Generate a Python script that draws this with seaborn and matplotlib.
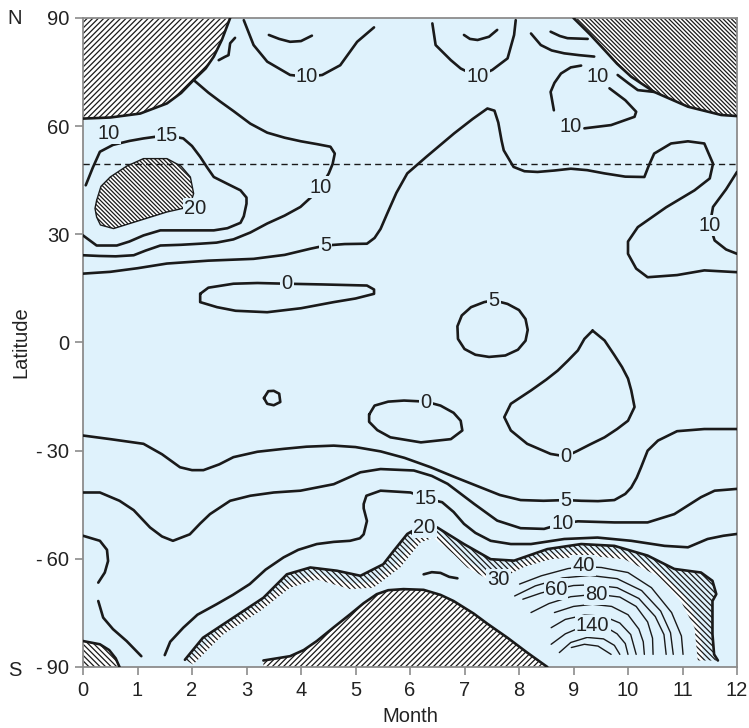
#!/usr/bin/env python
# coding: utf-8
import pandas as pd
import matplotlib
matplotlib.use('Agg')
from matplotlib import pyplot as plt
import seaborn as sb

# isolines, as (month, latitude) pairs

# polar-night areas (hatched)
north_pole_left = [(0, 62.1), (0.5, 62.4), (1.05, 63.5), (1.54, 66.3), (1.8, 69.2),
                   (2.03, 72.8), (2.25, 76.0), (2.4, 79.3), (2.55, 84.0), (2.7, 90)]
north_pole_right = [(9.0, 90), (9.3, 85.5), (9.57, 81.1), (9.8, 77.3), (10.06, 73.7),
                    (10.48, 69.5), (11.1, 65.4), (11.71, 63.1), (12, 62.8)]
south_pole_mid = [(3.31, -88.2), (3.8, -87.0), (4.05, -85.3), (4.29, -82.8), (4.6, -79.0),
                  (4.9, -75.4), (5.15, -72.3), (5.39, -69.8), (5.6, -68.7), (5.88, -68.4),
                  (6.25, -68.6), (6.56, -70.0), (6.8, -71.7), (7.17, -75.2), (7.42, -78.0),
                  (7.79, -81.9), (8.15, -86.0), (8.52, -90)]
south_pole_corner = [(0, -82.8), (0.31, -83.7), (0.48, -85.3), (0.6, -87.6), (0.67, -90)]

# northern hemisphere
blob20_north = [(0.25, 39.4), (0.33, 43.3), (0.5, 45.9), (0.8, 48.9), (1.11, 51.0),
                (1.54, 51.0), (1.8, 48.9), (1.97, 45.9), (2.03, 41.3), (1.95, 37.6),
                (1.54, 36.2), (1.05, 33.9), (0.56, 31.6), (0.32, 32.6), (0.25, 34.8),
                (0.22, 37.2), (0.25, 39.4)]
c10_north_left = [(2.03, 72.8), (2.3, 69.3), (2.52, 66.8), (2.76, 64.2), (3.07, 60.7),
                  (3.38, 58.2), (3.7, 56.8), (4.0, 55.8), (4.3, 55.0), (4.54, 54.3),
                  (4.62, 52.4), (4.58, 49.5), (4.51, 46.9), (4.36, 43.1), (4.2, 40.5),
                  (3.99, 37.6), (3.7, 35.2), (3.38, 33.0), (3.07, 30.5), (2.76, 28.6),
                  (2.45, 27.7), (2.15, 27.4), (1.8, 27.1), (1.42, 26.9), (1.15, 25.5),
                  (0.93, 24.2), (0.6, 23.9), (0.3, 24.0), (0, 24.2)]
c15_north = [(0.05, 43.6), (0.18, 48.5), (0.31, 52.9), (0.55, 54.8), (0.85, 55.9),
             (1.11, 56.6), (1.54, 57.5), (1.84, 56.6), (2.0, 54.5), (2.15, 51.5),
             (2.28, 48.5), (2.4, 45.9), (2.65, 44.0), (2.89, 42.2), (3.0, 40.2),
             (3.0, 38.5), (2.95, 35.0), (2.89, 33.2), (2.65, 31.7), (2.4, 31.1),
             (1.9, 31.1), (1.42, 31.1), (1.11, 29.7), (0.85, 28.0), (0.62, 26.9),
             (0.25, 26.9), (0, 29.7)]
c5_north = [(0, 19.1), (0.5, 19.6), (1.0, 20.6), (1.54, 21.9), (2.3, 22.7), (3.13, 23.2),
            (3.7, 24.3), (4.17, 26.0), (4.45, 26.9), (4.8, 27.3), (5.21, 27.4), (5.35, 29.0),
            (5.46, 31.5), (5.58, 35.7), (5.75, 41.5), (5.95, 46.9), (6.3, 51.5), (6.81, 58.0),
            (7.15, 62.0), (7.42, 64.9), (7.55, 64.3), (7.62, 61.0), (7.68, 56.0), (7.72, 53.3),
            (7.9, 48.7), (8.1, 47.5), (8.34, 47.3), (8.65, 47.7), (8.95, 48.2), (9.25, 47.8),
            (9.57, 46.9), (9.95, 46.0), (10.3, 45.9), (10.38, 49.0), (10.48, 52.4),
            (10.79, 55.2), (11.1, 55.8), (11.4, 55.2), (11.56, 49.6), (11.5, 45.5),
            (11.22, 42.2), (10.7, 37.5), (10.18, 32.0), (10.0, 28.0), (10.0, 24.6),
            (10.15, 20.5), (10.36, 18.1), (10.9, 18.7), (11.4, 20.0), (12, 19.5)]
c0_north = [(2.15, 13.5), (2.3, 15.2), (2.76, 16.3), (3.2, 16.5), (3.74, 16.3), (4.4, 16.1),
            (5.21, 15.8), (5.34, 14.7), (5.34, 13.5), (5.0, 12.2), (4.6, 11.2), (4.0, 9.5),
            (3.38, 8.4), (2.8, 8.8), (2.46, 9.8), (2.15, 11.2), (2.15, 13.5)]
c5_loop = [(7.54, 11.7), (7.79, 10.7), (8.0, 9.0), (8.12, 6.5), (8.16, 3.5), (8.12, 0.5),
           (7.98, -2.0), (7.75, -3.6), (7.45, -4.0), (7.2, -3.4), (7.0, -1.8), (6.88, 1.0),
           (6.87, 4.5), (6.95, 7.5), (7.12, 9.8), (7.36, 11.2), (7.54, 11.7)]
c10_north_right = [(12, 47.3), (11.8, 42.5), (11.56, 37.6), (11.5, 32.5), (11.59, 28.3),
                   (11.8, 25.8), (12, 24.6)]
u10_a = [(2.95, 89.4), (3.13, 82.5), (3.38, 77.9), (3.8, 74.2), (4.11, 73.7), (4.39, 74.2),
         (4.72, 76.9), (5.03, 83.4), (5.34, 87.4)]
cup_a = [(3.41, 85.3), (3.6, 84.2), (3.8, 83.4), (4.0, 83.6), (4.2, 85.1)]
squiggle = [(2.49, 78.3), (2.6, 79.2), (2.67, 79.7), (2.7, 83.0), (2.79, 84.5)]
u10_b = [(6.41, 88.5), (6.47, 82.5), (6.75, 78.3), (6.93, 76.0), (7.24, 73.7), (7.51, 75.6),
         (7.79, 78.8), (7.91, 85.3), (7.94, 89.4)]
cup_b = [(6.99, 85.3), (7.1, 84.2), (7.24, 83.9), (7.45, 84.8), (7.6, 86.7)]
tr_a = [(8.22, 85.7), (8.4, 82.5), (8.6, 81.0), (8.83, 80.2), (9.1, 79.7), (9.38, 79.3)]
tr_b = [(8.58, 86.2), (8.75, 85.0), (8.89, 84.4), (9.26, 84.2)]
tr_c = [(9.14, 76.8), (8.95, 76.3), (8.77, 74.6), (8.65, 72.0), (8.58, 69.5), (8.64, 64.4)]
tr_d = [(9.81, 74.2), (10.0, 72.0), (10.18, 70.0), (10.48, 69.5)]
tr_e = [(9.2, 59.4), (9.69, 60.3), (10.12, 62.6), (10.15, 64.0), (9.95, 67.2), (9.66, 70.5)]

# southern hemisphere
c0_south_loop = [(5.25, -20.0), (5.35, -17.5), (5.6, -16.4), (5.89, -16.1), (6.29, -16.4),
                 (6.56, -17.5), (6.8, -19.5), (6.93, -21.7), (6.96, -24.4), (6.75, -26.8),
                 (6.2, -27.7), (5.64, -26.3), (5.4, -24.3), (5.25, -22.0), (5.25, -20.0)]
c0_south_big = [(9.35, 3.3), (9.57, 0.56), (9.75, -3.5), (9.89, -6.8), (10.0, -10.0),
                (10.06, -13.3), (10.12, -17.9), (10.0, -21.7), (9.8, -24.0), (9.57, -26.3),
                (9.3, -28.3), (9.08, -30.0), (8.86, -31.6), (8.58, -30.9), (8.15, -28.1),
                (7.85, -24.4), (7.73, -20.7), (7.85, -17.0), (8.22, -13.3), (8.5, -10.3),
                (8.71, -7.8), (8.9, -5.0), (9.08, -2.2), (9.2, 1.0), (9.35, 3.3)]
c0_tiny = [(3.32, -15.4), (3.4, -13.5), (3.5, -13.4), (3.6, -14.2), (3.62, -16.5),
           (3.5, -17.4), (3.38, -17.0), (3.32, -15.4)]
c5_south = [(0, -25.8), (0.5, -26.8), (1.11, -28.1), (1.45, -31.0), (1.78, -34.6),
            (2.0, -35.4), (2.21, -35.4), (2.5, -33.8), (2.76, -31.8), (3.2, -30.3),
            (3.68, -29.5), (4.1, -28.9), (4.6, -28.6), (5.0, -29.0), (5.46, -30.2),
            (5.9, -32.0), (6.38, -34.6), (6.85, -37.5), (7.3, -40.2), (7.65, -42.3),
            (8.03, -43.7), (8.45, -43.9), (8.86, -43.7), (9.14, -43.9), (9.45, -44.0),
            (9.75, -43.7), (9.95, -42.0), (10.06, -40.2), (10.16, -37.5), (10.24, -34.6),
            (10.36, -30.0), (10.55, -27.2), (10.9, -24.6), (11.4, -24.0), (12, -24.0)]
c10_south = [(0, -41.6), (0.31, -41.6), (0.67, -43.9), (0.93, -46.5), (1.23, -51.3),
             (1.45, -53.8), (1.65, -55.0), (1.96, -53.2), (2.15, -50.2), (2.33, -47.6),
             (2.7, -43.9), (3.07, -42.5), (3.5, -41.6), (3.99, -41.1), (4.6, -39.3),
             (5.09, -36.0), (5.46, -35.1), (6.07, -35.5), (6.4, -37.0), (6.69, -39.2),
             (7.18, -44.8), (7.6, -49.4), (8.03, -51.5), (8.46, -51.7), (8.8, -50.2),
             (9.08, -49.6), (9.75, -49.9), (10.36, -49.9), (10.85, -47.6), (11.34, -42.9),
             (11.59, -41.1), (12, -40.6)]
c15_south_a1 = [(0, -53.6), (0.31, -55.0), (0.44, -57.5), (0.46, -60.6), (0.4, -63.8),
                (0.28, -66.6)]
c15_south_a2 = [(0.28, -71.7), (0.37, -76.3), (0.55, -79.5), (0.8, -82.8), (1.07, -87.0)]
c15_south_b = [(1.5, -86.7), (1.6, -83.0), (1.84, -79.1), (2.1, -75.5), (2.45, -72.6),
               (2.75, -70.0), (3.06, -67.0), (3.35, -63.0), (3.68, -59.6), (3.95, -57.5),
               (4.29, -55.9), (4.6, -55.3), (4.9, -55.0), (5.08, -54.3), (5.15, -53.2),
               (5.21, -49.5), (5.15, -46.0), (5.15, -44.8), (5.2, -42.5), (5.46, -41.1),
               (6.01, -41.6), (6.29, -43.2), (6.59, -44.3), (6.8, -47.0), (6.99, -50.3),
               (7.2, -52.8), (7.48, -55.0), (7.85, -55.9), (8.22, -55.9), (8.83, -54.5),
               (9.44, -54.1), (10.06, -55.0), (10.67, -56.4), (11.1, -56.8), (11.46, -54.5),
               (11.75, -53.6), (12, -53.1)]
c20_south = [(1.87, -88.0), (2.2, -81.9), (2.76, -76.3), (3.31, -70.8), (3.74, -64.3),
             (4.17, -62.4), (4.66, -63.3), (5.09, -64.7), (5.51, -61.5), (5.7, -57.8),
             (5.95, -53.1), (6.1, -51.8), (6.26, -51.3), (6.5, -51.3), (6.99, -55.9),
             (7.48, -60.1), (7.91, -60.5), (8.52, -57.3), (9.14, -55.9), (9.75, -56.4),
             (10.36, -59.1), (10.85, -62.8), (11.34, -63.8), (11.55, -66.1), (11.62, -69.8),
             (11.55, -71.7), (11.55, -80.9), (11.58, -86.5), (11.65, -88.2)]
c30_edge = [(2.02, -89.3), (2.57, -81.0), (3.25, -74.5), (3.8, -68.0), (4.29, -65.7),
            (4.9, -68.4), (5.33, -68.0), (5.82, -62.4), (6.19, -55.5), (6.43, -54.1),
            (6.8, -58.7), (7.05, -62.4), (7.48, -66.1), (7.8, -64.5), (8.1, -62.2),
            (8.58, -60.1), (9.32, -59.2), (9.93, -60.1), (10.54, -64.7), (10.97, -71.7),
            (11.22, -79.1), (11.28, -88.2)]
tilde = [(6.25, -64.3), (6.4, -63.7), (6.56, -63.9), (6.72, -65.0), (6.87, -65.4)]

# thin isolines of the southern maximum (40 ... 180)
arc_40 = [(8.01, -67.0), (8.41, -64.7), (8.9, -62.7), (9.19, -62.2), (9.51, -62.4),
          (10.0, -63.8), (10.43, -68.0), (10.8, -74.9), (10.98, -81.4), (11.01, -86.5)]
arc_50 = [(7.92, -70.3), (8.3, -67.5), (8.8, -65.3), (9.3, -64.6), (9.8, -65.5),
          (10.25, -68.8), (10.6, -74.5), (10.78, -80.5), (10.83, -86.5)]
arc_60 = [(8.07, -71.2), (8.4, -69.5), (8.68, -68.4), (9.0, -67.4), (9.35, -67.2),
          (9.8, -68.0), (10.2, -71.0), (10.5, -76.0), (10.66, -81.0), (10.7, -86.5)]
arc_80 = [(8.22, -74.9), (8.55, -72.4), (8.95, -70.5), (9.42, -69.8), (9.85, -70.6),
          (10.15, -73.2), (10.36, -77.5), (10.45, -82.0), (10.46, -86.5)]
arc_100 = [(8.65, -74.9), (9.0, -73.2), (9.35, -72.6), (9.7, -73.2), (10.0, -75.5),
           (10.2, -79.5), (10.28, -83.0), (10.3, -86.5)]
arc_120 = [(8.59, -79.1), (8.85, -76.8), (9.2, -75.6), (9.55, -75.9), (9.85, -77.8),
           (10.05, -81.0), (10.15, -86.5)]
arc_140 = [(8.59, -83.7), (8.85, -80.8), (9.1, -79.2), (9.35, -78.6), (9.6, -79.0),
           (9.8, -80.8), (9.95, -83.5), (10.0, -86.5)]
arc_160 = [(8.74, -86.0), (8.95, -83.2), (9.25, -81.8), (9.55, -82.2), (9.75, -84.0),
           (9.85, -86.5)]
arc_180 = [(8.96, -84.6), (9.2, -83.7), (9.45, -84.2), (9.69, -86.5)]

# isoline labels
label_text = ['10', '10', '10', '10', '10', '15', '20', '10', '5', '0', '10', '5',
              '0', '0', '5', '15', '10', '20', '30', '40', '60', '80', '140']
label_month = [4.11, 7.24, 9.44, 8.95, 0.47, 1.54, 2.06, 4.36, 4.45, 3.74, 11.5, 7.54,
               6.29, 8.86, 8.86, 6.29, 8.8, 6.26, 7.63, 9.19, 8.68, 9.42, 9.35]
label_lat = [73.7, 73.7, 73.7, 59.8, 58.1, 57.5, 37.1, 43.1, 26.9, 16.3, 32.5, 11.7,
             -16.6, -31.6, -43.7, -43.3, -50.2, -51.3, -65.7, -61.8, -68.4, -69.8, -78.6]

month_ticks = list(range(0, 13))
lat_ticks = [90, 60, 30, 0, -30, -60, -90]
lat_tick_labels = ['90', '60', '30', '0', '-\u200930', '-\u200960', '-\u200990']

sky = '#dff2fc'
ink = '#1a1a1a'
fs = 14.5

sb.set_style('white')
plt.rcParams['font.family'] = ['Liberation Sans', 'DejaVu Sans']
plt.rcParams['hatch.linewidth'] = 0.9

fig = plt.figure(figsize=(7.49, 7.28), dpi=100)
ax = fig.add_axes([83 / 749, 61 / 728, 654 / 749, 649 / 728])
ax.set_facecolor(sky)


def line(pts, lw=1.9, color=ink, z=3):
    d = pd.DataFrame(pts, columns=['month', 'lat'])
    sb.lineplot(data=d, x='month', y='lat', sort=False, estimator=None, color=color,
                lw=lw, ax=ax, zorder=z, solid_capstyle='round', solid_joinstyle='round')


def hatched(pts, pattern, face='white'):
    m, l = zip(*pts)
    return ax.fill(m, l, facecolor=face, edgecolor=ink, hatch=pattern, lw=0, zorder=1)[0]


# polar-night areas
hatched(north_pole_left + [(0, 90)], '//////')
hatched(north_pole_right + [(12, 90)], '\\' * 8)
hatched(south_pole_mid + [(3.31, -90)], '//////')
hatched(south_pole_corner + [(0, -90)], '\\' * 6)
for pts in [north_pole_left, north_pole_right, south_pole_mid, south_pole_corner]:
    line(pts)

# values above 20
hatched(blob20_north, '\\' * 8)
line(blob20_north, lw=1.0)

band_pts = c20_south + c30_edge[::-1]
bm, bl = zip(*band_pts)
band = ax.fill(bm, bl, facecolor=sky, lw=0, zorder=1)[0]
fm, fl = zip(*c30_edge)
fringe, = ax.plot(fm, fl, color='white', lw=8, zorder=1.1)
fringe.set_clip_path(band)
ax.fill(bm, bl, facecolor='none', edgecolor=ink, hatch='\\' * 6, lw=0, zorder=1.2)

# main isolines
for pts in [c10_north_left, c15_north, c5_north, c0_north, c5_loop, c10_north_right,
            u10_a, cup_a, squiggle, u10_b, cup_b, tr_a, tr_b, tr_c, tr_d, tr_e,
            c0_south_loop, c0_south_big, c0_tiny, c5_south, c10_south,
            c15_south_a1, c15_south_a2, c15_south_b, c20_south, tilde]:
    line(pts)

for pts in [arc_40, arc_50, arc_60, arc_80, arc_100, arc_120, arc_140, arc_160, arc_180]:
    line(pts, lw=1.0)

ax.axhline(49.6, color=ink, lw=1.0, ls=(0, (4.5, 3)), zorder=4)

for s, m, l in zip(label_text, label_month, label_lat):
    ax.text(m, l, s, ha='center', va='center', fontsize=fs, color='#222', zorder=6,
            bbox=dict(boxstyle='square,pad=0.06', fc=sky, ec='none'))

ax.set_xlim(0, 12)
ax.set_ylim(-90, 90)
ax.set_xticks(month_ticks)
ax.set_yticks(lat_ticks)
ax.set_yticklabels(lat_tick_labels)
ax.tick_params(axis='both', direction='out', length=6, width=1.2, color='#8c8c8c',
               labelsize=fs, pad=4, bottom=True, left=True, top=False, right=False,
               labelcolor='#222')
for sp in ax.spines.values():
    sp.set_color('#8c8c8c')
    sp.set_linewidth(1.3)
ax.set_xlabel('Month', fontsize=fs, color='#222', labelpad=5)
ax.set_ylabel('Latitude', fontsize=fs, color='#222', labelpad=4)

fig.text(15 / 749, 1 - 18 / 728, 'N', ha='center', va='center', fontsize=fs, color='#222')
fig.text(15 / 749, 1 - 670 / 728, 'S', ha='center', va='center', fontsize=fs, color='#222')

plt.savefig('out.png', dpi=100)
